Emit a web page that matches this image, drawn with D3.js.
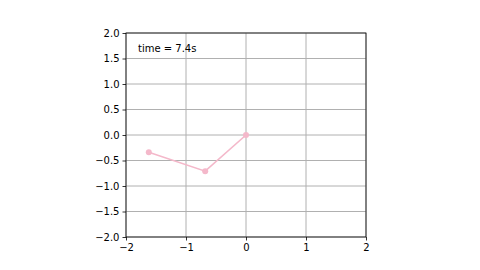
<!DOCTYPE html>
<html>
<head>
<script src="https://d3js.org/d3.v7.min.js"></script>
<style>
body { margin: 0; background: #fff; }
text { font-family: "DejaVu Sans", sans-serif; }
</style>
</head>
<body>
<div id="chart"></div>
<script>
// arm positions at this frame
var xs = [-1.62, -0.68, 0.0];
var ys = [-0.34, -0.71, 0.0];
var xTicks = [-2, -1, 0, 1, 2];
var yTicks = [-2, -1.5, -1, -0.5, 0, 0.5, 1, 1.5, 2];
var timeLabel = "time = 7.4s";

var width = 480, height = 270;
var pLeft = 126, pRight = 366, pTop = 33, pBottom = 237;

var svg = d3.select("#chart").append("svg")
    .attr("width", width).attr("height", height);

var x = d3.scaleLinear().domain([-2, 2]).range([pLeft, pRight]);
var y = d3.scaleLinear().domain([-2, 2]).range([pBottom, pTop]);

// grid
svg.append("g").selectAll("line").data(xTicks).enter().append("line")
    .attr("x1", function(d) { return x(d); }).attr("x2", function(d) { return x(d); })
    .attr("y1", pTop).attr("y2", pBottom)
    .attr("stroke", "#b0b0b0").attr("stroke-width", 1);
svg.append("g").selectAll("line").data(yTicks).enter().append("line")
    .attr("y1", function(d) { return y(d); }).attr("y2", function(d) { return y(d); })
    .attr("x1", pLeft).attr("x2", pRight)
    .attr("stroke", "#b0b0b0").attr("stroke-width", 1);

// axes
var fmtX = function(d) { return d < 0 ? "\u2212" + Math.abs(d) : "" + d; };
var fmtY = function(d) { var s = Math.abs(d).toFixed(1); return d < 0 ? "\u2212" + s : s; };

var xa = svg.append("g").attr("transform", "translate(0," + pBottom + ")")
    .call(d3.axisBottom(x).tickValues(xTicks).tickFormat(fmtX).tickSize(3.5).tickPadding(3));
var ya = svg.append("g").attr("transform", "translate(" + pLeft + ",0)")
    .call(d3.axisLeft(y).tickValues(yTicks).tickFormat(fmtY).tickSize(3.5).tickPadding(3));
[xa, ya].forEach(function(a) {
    a.select(".domain").remove();
    a.selectAll("text").attr("font-size", 10).attr("fill", "#000")
        .style("font-family", "DejaVu Sans");
    a.selectAll("line").attr("stroke", "#000").attr("stroke-width", 0.8);
});

// frame
svg.append("rect").attr("x", pLeft).attr("y", pTop)
    .attr("width", pRight - pLeft).attr("height", pBottom - pTop)
    .attr("fill", "none").attr("stroke", "#000").attr("stroke-width", 0.8);

// arm
var pts = xs.map(function(d, i) { return [d, ys[i]]; });
svg.append("path").datum(pts)
    .attr("d", d3.line().x(function(d) { return x(d[0]); }).y(function(d) { return y(d[1]); }))
    .attr("fill", "none").attr("stroke", "#f4b8ca").attr("stroke-width", 1.6);
svg.append("g").selectAll("circle").data(pts).enter().append("circle")
    .attr("cx", function(d) { return x(d[0]); })
    .attr("cy", function(d) { return y(d[1]); })
    .attr("r", 3).attr("fill", "#f4b8ca");

svg.append("text").attr("x", 138).attr("y", 52)
    .attr("font-size", 10).attr("fill", "#000").text(timeLabel);
</script>
</body>
</html>
